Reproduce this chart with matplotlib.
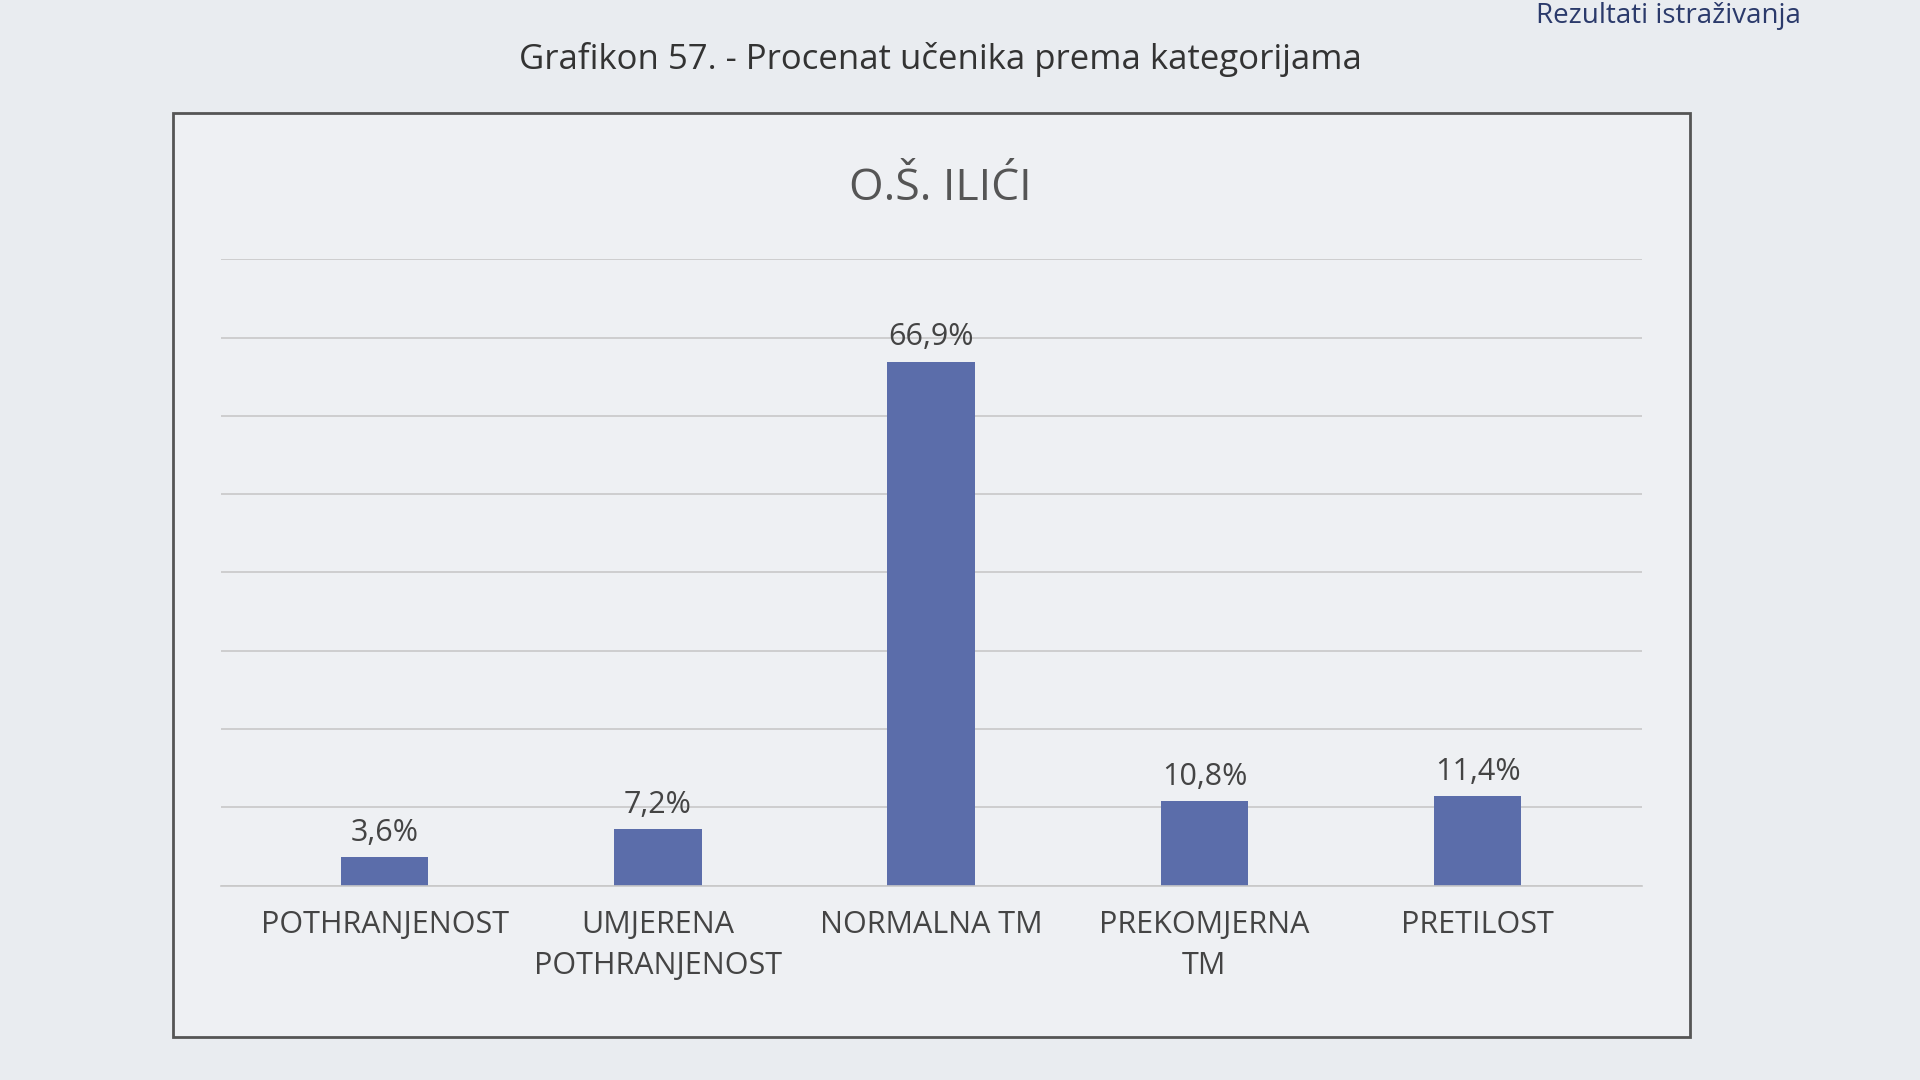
import matplotlib.pyplot as plt
from matplotlib.patches import Rectangle

categories = ["POTHRANJENOST", "UMJERENA\nPOTHRANJENOST", "NORMALNA TM", "PREKOMJERNA\nTM", "PRETILOST"]
values = [3.6, 7.2, 66.9, 10.8, 11.4]
labels = ["3,6%", "7,2%", "66,9%", "10,8%", "11,4%"]

plt.rcParams['font.family'] = ['Open Sans', 'DejaVu Sans']

fig = plt.figure(figsize=(19.2, 10.8), dpi=100)
fig.patch.set_facecolor("#e9ecf0")

fig.text(0.49, 0.945, "Grafikon 57. - Procenat učenika prema kategorijama",
         ha="center", va="center", fontsize=25, color="#333333")
fig.text(0.80, 0.985, "Rezultati istraživanja", ha="left", va="center",
         fontsize=20, color="#2b3a6b")

box = Rectangle((0.09, 0.04), 0.79, 0.855, transform=fig.transFigure,
                facecolor="#eef0f3", edgecolor="#555555", linewidth=2, zorder=-1)
fig.patches.append(box)

fig.text(0.49, 0.825, "O.Š. ILIĆI", ha="center", va="center",
         fontsize=32, color="#555555")

ax = fig.add_axes([0.115, 0.18, 0.74, 0.58], zorder=2)
ax.set_facecolor("none")
x = range(len(categories))
ax.bar(x, values, width=0.32, color="#5b6daa")
for i, v in enumerate(values):
    ax.text(i, v + 1.2, labels[i], ha="center", va="bottom", fontsize=22, color="#444444")

ax.set_ylim(0, 80)
ax.set_yticks(range(0, 81, 10))
ax.yaxis.grid(True, color="#c8c8c8", linewidth=1.2)
ax.set_axisbelow(True)
ax.tick_params(axis="y", left=False, labelleft=False)
ax.tick_params(axis="x", bottom=False, labelsize=22, labelcolor="#444444", pad=14)
ax.set_xticks(list(x))
ax.set_xticklabels(categories, linespacing=1.5)
ax.set_xlim(-0.6, 4.6)
for s in ["top", "right", "left"]:
    ax.spines[s].set_visible(False)
ax.spines["bottom"].set_color("#c8c8c8")
ax.spines["bottom"].set_linewidth(1.2)

fig.savefig("out.png", dpi=100, facecolor=fig.get_facecolor())
